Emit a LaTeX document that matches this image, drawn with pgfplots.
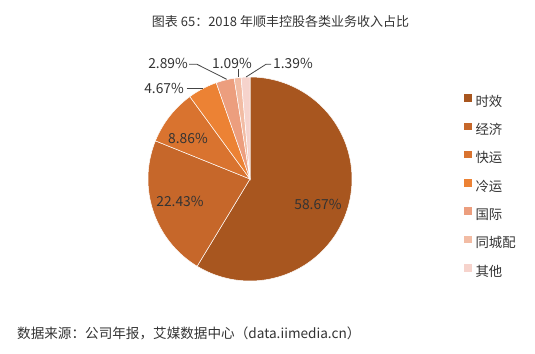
\documentclass[border=0pt]{standalone}
\usepackage{fontspec}
\setmainfont{Noto Sans CJK SC}
\usepackage{pgfplots}
\pgfplotsset{compat=1.18}
\definecolor{cA}{HTML}{A8561F}
\definecolor{cB}{HTML}{C6672A}
\definecolor{cC}{HTML}{D9732F}
\definecolor{cD}{HTML}{EC8234}
\definecolor{cE}{HTML}{EC9E7E}
\definecolor{cF}{HTML}{F2BCA4}
\definecolor{cG}{HTML}{F6D3CC}
\definecolor{txt}{HTML}{333333}
\definecolor{lead}{HTML}{444444}
% shares (%)
\def\vA{58.67}\def\vB{22.43}\def\vC{8.86}\def\vD{4.67}\def\vE{2.89}\def\vF{1.09}\def\vG{1.39}
\pgfmathsetmacro\aA{90}
\pgfmathsetmacro\aB{\aA-3.6*\vA}
\pgfmathsetmacro\aC{\aB-3.6*\vB}
\pgfmathsetmacro\aD{\aC-3.6*\vC}
\pgfmathsetmacro\aE{\aD-3.6*\vD}
\pgfmathsetmacro\aF{\aE-3.6*\vE}
\pgfmathsetmacro\aG{\aF-3.6*\vF}
\pgfmathsetmacro\aH{\aG-3.6*\vG}
\def\cx{250}\def\cy{175}\def\pieR{102}
\begin{document}
\begin{tikzpicture}
\useasboundingbox (0,0) rectangle (535bp,354bp);
\begin{axis}[
  x=1bp, y=1bp, xmin=0, xmax=535, ymin=0, ymax=354,
  hide axis, clip=false, scale only axis,
  legend image code/.code={\path[#1,draw=none] (0bp,1bp) rectangle (7.5bp,8.5bp);},
  legend style={at={(axis cs:464,259.8)}, anchor=north west, draw=none, fill=none,
    inner sep=0pt, outer sep=0pt, row sep=13.3bp,
    nodes={inner sep=0pt, text height=10bp, text depth=3bp, font=\fontsize{13.4bp}{15bp}\selectfont, text=txt},
    /tikz/every odd column/.style={column sep=4bp}},
  legend cell align=left,
]
\addplot[fill=cA, draw=white, line width=0.5bp, domain=\aB:\aA, samples=120, variable=\t] ({\cx+\pieR*cos(\t)}, {\cy+\pieR*sin(\t)}) -- (axis cs:\cx,\cy) -- cycle;
\addlegendentry{时效}
\addplot[fill=cB, draw=white, line width=0.5bp, domain=\aC:\aB, samples=60, variable=\t] ({\cx+\pieR*cos(\t)}, {\cy+\pieR*sin(\t)}) -- (axis cs:\cx,\cy) -- cycle;
\addlegendentry{经济}
\addplot[fill=cC, draw=white, line width=0.5bp, domain=\aD:\aC, samples=30, variable=\t] ({\cx+\pieR*cos(\t)}, {\cy+\pieR*sin(\t)}) -- (axis cs:\cx,\cy) -- cycle;
\addlegendentry{快运}
\addplot[fill=cD, draw=white, line width=0.5bp, domain=\aE:\aD, samples=20, variable=\t] ({\cx+\pieR*cos(\t)}, {\cy+\pieR*sin(\t)}) -- (axis cs:\cx,\cy) -- cycle;
\addlegendentry{冷运}
\addplot[fill=cE, draw=white, line width=0.5bp, domain=\aF:\aE, samples=12, variable=\t] ({\cx+\pieR*cos(\t)}, {\cy+\pieR*sin(\t)}) -- (axis cs:\cx,\cy) -- cycle;
\addlegendentry{国际}
\addplot[fill=cF, draw=white, line width=0.5bp, domain=\aG:\aF, samples=6, variable=\t] ({\cx+\pieR*cos(\t)}, {\cy+\pieR*sin(\t)}) -- (axis cs:\cx,\cy) -- cycle;
\addlegendentry{同城配}
\addplot[fill=cG, draw=white, line width=0.5bp, domain=\aH:\aG, samples=6, variable=\t] ({\cx+\pieR*cos(\t)}, {\cy+\pieR*sin(\t)}) -- (axis cs:\cx,\cy) -- cycle;
\addlegendentry{其他}
% leader lines
\addplot[lead, line width=0.8bp, forget plot] coordinates {(189,289.7) (197,289.7) (226.7,274.7)};
\addplot[lead, line width=0.8bp, forget plot] coordinates {(186.7,265.3) (202.7,265.3)};
\addplot[lead, line width=0.8bp, forget plot] coordinates {(238.5,284.7) (238.5,276.5)};
\addplot[lead, line width=0.8bp, forget plot] coordinates {(271,289.7) (266,289.7) (246,277)};
% labels
\begin{scope}[every node/.style={font=\fontsize{13.8bp}{15bp}\selectfont, text=txt, inner sep=0pt}]
\node at (axis cs:318,150) {58.67\%};
\node at (axis cs:180,153) {22.43\%};
\node at (axis cs:188,216) {8.86\%};
\node[anchor=east] at (axis cs:184,266) {4.67\%};
\node[anchor=east] at (axis cs:188,291) {2.89\%};
\node at (axis cs:232,291) {1.09\%};
\node[anchor=west] at (axis cs:273,291) {1.39\%};
\node[anchor=base, font=\fontsize{13bp}{15bp}\selectfont] at (axis cs:280.5,327.4) {图表 65：2018 年顺丰控股各类业务收入占比};
\node[anchor=base west, font=\fontsize{13.6bp}{15bp}\selectfont] at (axis cs:17,15.1) {数据来源：公司年报，艾媒数据中心（data.iimedia.cn）};
\end{scope}
\end{axis}
\end{tikzpicture}
\end{document}
